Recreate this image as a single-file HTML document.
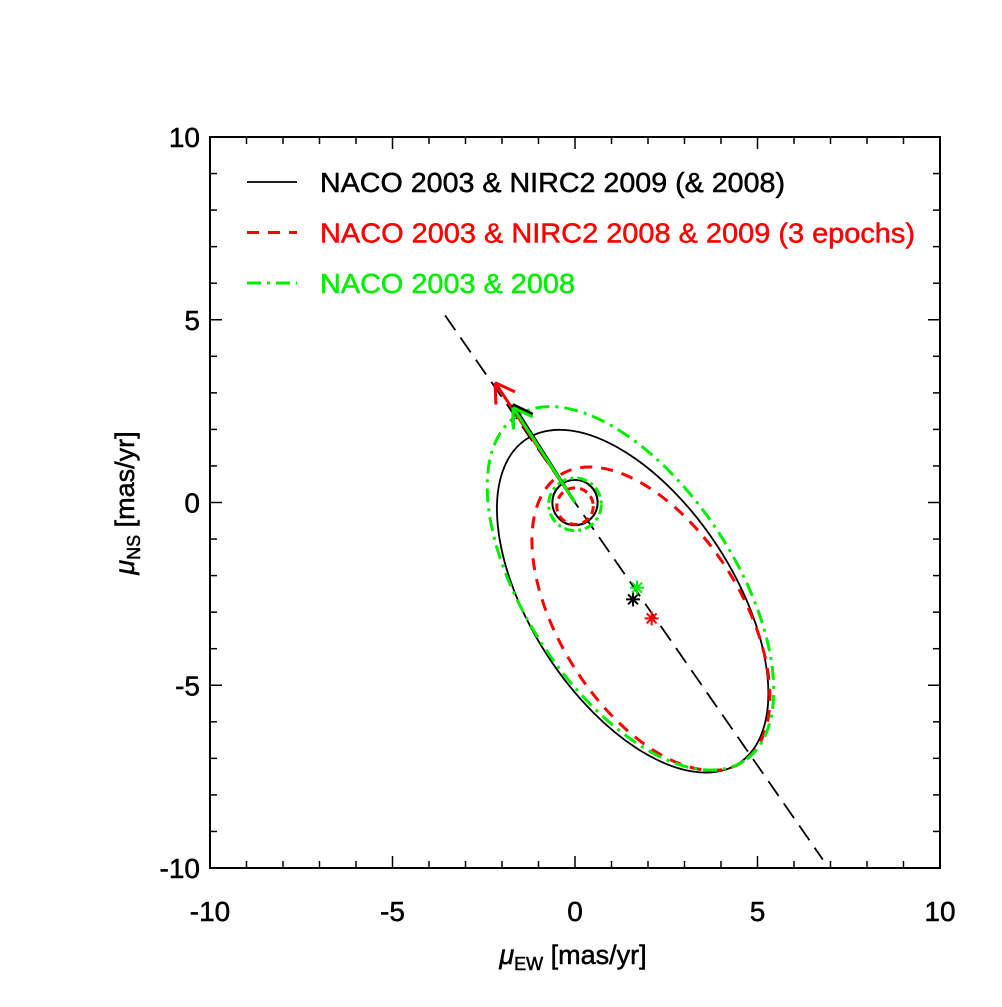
<!DOCTYPE html>
<html><head><meta charset="utf-8"><style>
body{margin:0;background:#fff}
text{font-family:"Liberation Sans","DejaVu Sans",sans-serif}
</style></head><body>
<svg id="c" width="1002" height="1002" xmlns="http://www.w3.org/2000/svg"></svg>
<script>
const xTicks=[-10,-5,0,5,10];
const yTicks=[-10,-5,0,5,10];
// ellipses: [cx, cy, a, b, angleDeg]
const blackEllipse=[1.58,-2.7,5.31,2.77,-56.8];
const redEllipse=[2.08,-3.18,4.66,2.49,-57.7];
const greenEllipse=[1.52,-2.35,5.66,2.86,-56.6];
const smallCircles=[[0,0,0.62],[0,-0.1,0.5],[0,-0.05,0.72]];
const arrowTips=[[-1.7,2.68],[-2.19,3.28],[-1.7,2.6]];
const stars=[[1.59,-2.65],[2.1,-3.17],[1.7,-2.33]];
const pmLine=[[-3.56,5.12],[6.79,-9.77]];
const legendLabels=["NACO 2003 & NIRC2 2009 (& 2008)","NACO 2003 & NIRC2 2008 & 2009 (3 epochs)","NACO 2003 & 2008"];
const colors=["#000","#f00","#0e0"];
const dashes=["none","12 9","14 6 3 6"];
const L=210,R=940,T=137,B=868;
const X=v=>L+(v+10)/20*(R-L), Y=v=>B-(v+10)/20*(B-T);
const S=(R-L)/20;
const svg=document.getElementById('c');
function el(t,a,p){const e=document.createElementNS('http://www.w3.org/2000/svg',t);for(const k in a)e.setAttribute(k,a[k]);(p||svg).appendChild(e);return e;}
const defs=el('defs',{});const cp=el('clipPath',{id:'cl'},defs);el('rect',{x:L,y:T,width:R-L,height:B-T},cp);
const g=el('g',{'clip-path':'url(#cl)'});
let e=el('line',{x1:X(pmLine[0][0]),y1:Y(pmLine[0][1]),x2:X(pmLine[1][0]),y2:Y(pmLine[1][1]),stroke:'#000','stroke-width':1.8,'stroke-dasharray':'18 9'},g);


const ells=[blackEllipse,redEllipse,greenEllipse];
const names=['naco-nirc2-2009','naco-nirc2-3epochs','naco-2003-2008'];
ells.forEach((p,i)=>{
 const el2=el('ellipse',{cx:X(p[0]),cy:Y(p[1]),rx:p[2]*S,ry:p[3]*S,transform:`rotate(${-p[4]} ${X(p[0])} ${Y(p[1])})`,fill:'none',stroke:colors[i],'stroke-width':i?3:1.8,'stroke-dasharray':dashes[i]},g);
 
 
 const c=smallCircles[i];
 const ci=el('circle',{cx:X(c[0]),cy:Y(c[1]),r:c[2]*S,fill:'none',stroke:colors[i],'stroke-width':i?3:2,'stroke-dasharray':i?(i==1?'8 5':'10 4 3 4'):'none'},g);
 
 
});
[1,0,2].forEach(i=>{
 const t=arrowTips[i],x0=X(0),y0=Y(0),x1=X(t[0]),y1=Y(t[1]);
 const ag=el('g',{stroke:colors[i],'stroke-width':3,fill:'none'},g);
 
 
 el('line',{x1:x0,y1:y0,x2:x1,y2:y1},ag);
 const ang=Math.atan2(y0-y1,x0-x1);
 [0.55,-0.55].forEach(d=>el('line',{x1:x1,y1:y1,x2:x1+22*Math.cos(ang+d),y2:y1+22*Math.sin(ang+d)},ag));
});
stars.forEach((s,i)=>{
 const sg=el('g',{stroke:colors[i],'stroke-width':2},g);
 
 
 for(let k=0;k<4;k++){const a=k*Math.PI/4;el('line',{x1:X(s[0])-7*Math.cos(a),y1:Y(s[1])-7*Math.sin(a),x2:X(s[0])+7*Math.cos(a),y2:Y(s[1])+7*Math.sin(a)},sg);}
});
e=el('rect',{x:L,y:T,width:R-L,height:B-T,fill:'none',stroke:'#000','stroke-width':2});


for(let v=-10;v<=10;v++){
 const m=v%5===0?12:7;
 el('line',{x1:X(v),y1:B,x2:X(v),y2:B-m,stroke:'#000','stroke-width':1.5});
 el('line',{x1:X(v),y1:T,x2:X(v),y2:T+m,stroke:'#000','stroke-width':1.5});
 el('line',{x1:L,y1:Y(v),x2:L+m,y2:Y(v),stroke:'#000','stroke-width':1.5});
 el('line',{x1:R,y1:Y(v),x2:R-m,y2:Y(v),stroke:'#000','stroke-width':1.5});
}
xTicks.forEach(v=>{const t=el('text',{x:X(v),y:921,'font-size':28,'text-anchor':'middle',stroke:'#000','stroke-width':0.5});t.textContent=v;
 
 });
yTicks.forEach(v=>{const t=el('text',{x:200,y:Y(v)+10,'font-size':28,'text-anchor':'end',stroke:'#000','stroke-width':0.5});t.textContent=v;
 
 });
legendLabels.forEach((s,i)=>{
 const y=182+i*50.5;
 const lg=el('g',{});
 
 
 el('line',{x1:247,y1:y,x2:297,y2:y,stroke:colors[i],'stroke-width':i?3:1.8,'stroke-dasharray':dashes[i]},lg);
 const t=el('text',{x:320,y:y+10,'font-size':28,fill:colors[i],stroke:colors[i],'stroke-width':0.5,textLength:[465,595,255][i],lengthAdjust:'spacingAndGlyphs'},lg);t.textContent=s;
});
</script>
<svg style="position:absolute;left:0;top:0" width="1002" height="1002" xmlns="http://www.w3.org/2000/svg">
<text x="573" y="964" font-size="27" text-anchor="middle" stroke="#000" stroke-width="0.5" font-family="Liberation Sans,sans-serif"><tspan font-style="italic">μ</tspan><tspan font-size="18" dy="6">EW</tspan><tspan dy="-6"> [mas/yr]</tspan></text>
<text transform="translate(134,503) rotate(-90)" font-size="27" text-anchor="middle" stroke="#000" stroke-width="0.5" font-family="Liberation Sans,sans-serif"><tspan font-style="italic">μ</tspan><tspan font-size="18" dy="6">NS</tspan><tspan dy="-6"> [mas/yr]</tspan></text>
</svg>
</body></html>
